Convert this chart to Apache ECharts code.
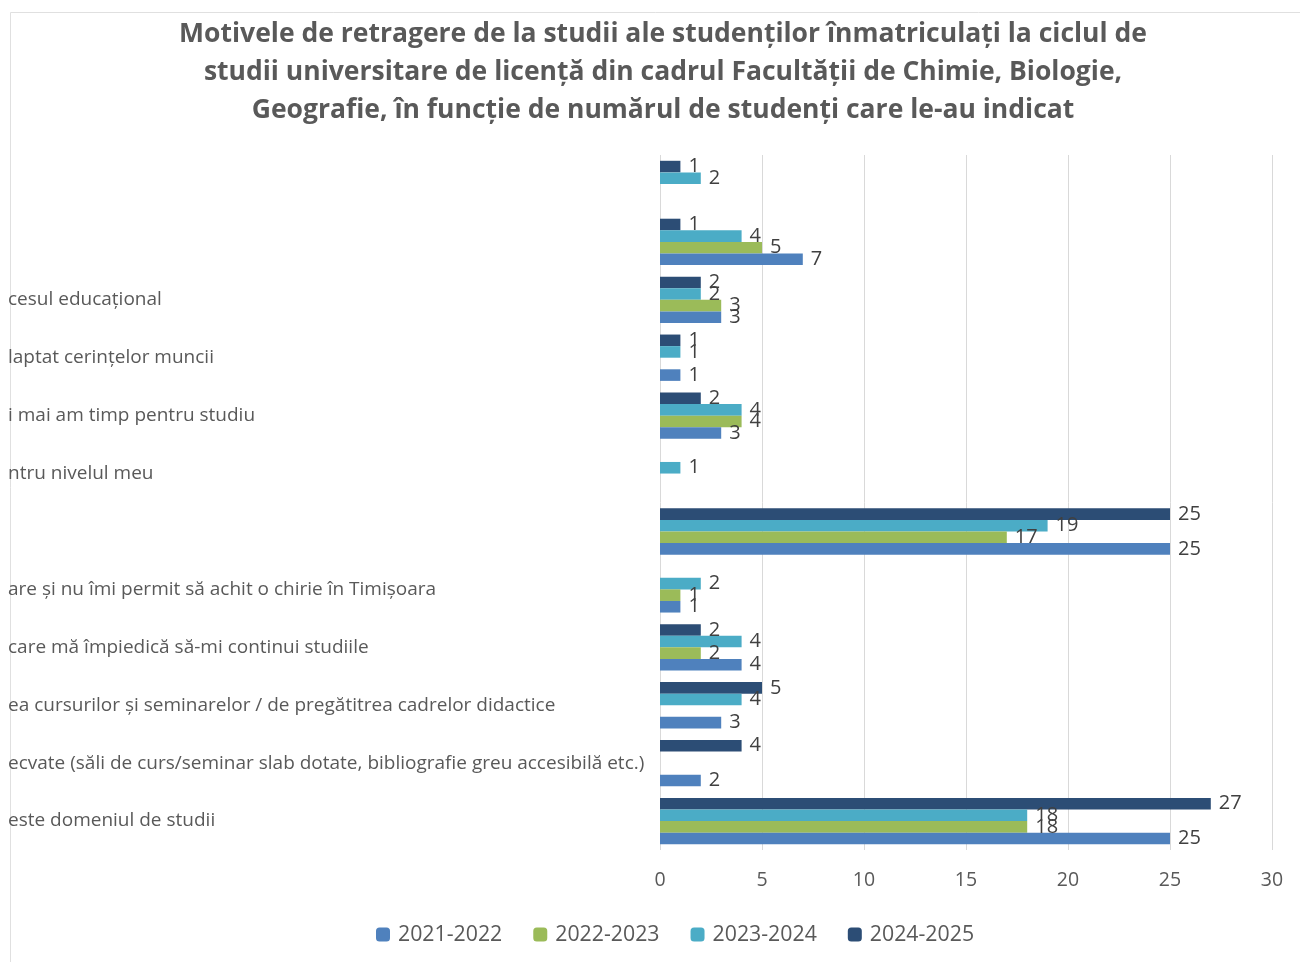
<!DOCTYPE html>
<html>
<head>
<meta charset="utf-8">
<script src="https://cdn.jsdelivr.net/npm/echarts@6/dist/echarts.min.js"></script>
<style>
  html, body { margin: 0; padding: 0; background: #fff; }
  #chart { width: 1300px; height: 962px; }
</style>
</head>
<body>
<div id="chart"></div>
<script>
// categories, listed top to bottom as they appear (labels are cut at the left edge)
var categories = [
  ' ',
  '  ',
  'cesul educațional',
  'laptat cerințelor muncii',
  'i mai am timp pentru studiu',
  'ntru nivelul meu',
  '   ',
  'are și nu îmi permit să achit o chirie în Timișoara',
  'care mă împiedică să-mi continui studiile',
  'ea cursurilor și seminarelor / de pregătitrea cadrelor didactice',
  'ecvate (săli de curs/seminar slab dotate, bibliografie greu accesibilă etc.)',
  'este domeniul de studii'
];
var years = ['2021-2022', '2022-2023', '2023-2024', '2024-2025'];
var y2021 = [null, 7, 3, 1, 3, null, 25, 1, 4, 3, 2, 25];
var y2022 = [null, 5, 3, null, 4, null, 17, 1, 2, null, null, 18];
var y2023 = [2, 4, 2, 1, 4, 1, 19, 2, 4, 4, null, 18];
var y2024 = [1, 1, 2, 1, 2, null, 25, null, 2, 5, 4, 27];
var xTicks = [0, 5, 10, 15, 20, 25, 30];

var colors = ['#4F81BD', '#9BBB59', '#4BACC6', '#2C4D75'];
var values = [y2021, y2022, y2023, y2024];
var font = 'Open Sans';

var chart = echarts.init(document.getElementById('chart'));

// newest year first so it sits on top inside each group, like the original
var series = years.map(function (name, i) {
  return {
    name: name,
    type: 'bar',
    data: values[i],
    itemStyle: { color: colors[i] },
    barGap: '0%',
    barCategoryGap: '20%',
    label: {
      show: true,
      position: 'right',
      distance: 8,
      color: '#404040',
      fontFamily: font,
      fontSize: 20
    }
  };
}).reverse();

var option = {
  backgroundColor: '#fff',
  animation: false,
  title: {
    text: 'Motivele de retragere de la studii ale studenților înmatriculați la ciclul de\n' +
          'studii universitare de licență din cadrul Facultății de Chimie, Biologie,\n' +
          'Geografie, în funcție de numărul de studenți care le-au indicat',
    left: 658,
    textAlign: 'center',
    top: 10,
    textStyle: {
      fontFamily: font,
      fontWeight: 'bold',
      fontSize: 26.5,
      lineHeight: 38,
      color: '#595959'
    }
  },
  legend: {
    data: years,
    left: 371,
    top: 919,
    itemWidth: 14,
    itemHeight: 14,
    itemGap: 31,
    itemStyle: { borderWidth: 0 },
    textStyle: {
      fontFamily: font,
      fontSize: 21.3,
      color: '#595959',
      padding: [0, 0, 0, 3]
    }
  },
  grid: {
    left: 660,
    right: 28,
    top: 155,
    bottom: 112
  },
  xAxis: {
    type: 'value',
    min: xTicks[0],
    max: xTicks[xTicks.length - 1],
    interval: 5,
    axisLine: { show: false },
    axisTick: { show: false },
    splitLine: { lineStyle: { color: '#D9D9D9', width: 1 } },
    axisLabel: {
      margin: 20,
      color: '#595959',
      fontFamily: font,
      fontSize: 19.5
    }
  },
  yAxis: {
    type: 'category',
    data: categories,
    inverse: true,
    axisLine: { show: false },
    axisTick: { show: false },
    axisLabel: {
      align: 'left',
      margin: 652,
      color: '#595959',
      fontFamily: font,
      fontSize: 19
    }
  },
  graphic: [{
    type: 'rect',
    shape: { x: 10.5, y: 12.5, width: 1300, height: 960 },
    style: { fill: null, stroke: '#E0E0E0', lineWidth: 1 },
    silent: true,
    z: -1
  }],
  series: series
};

chart.setOption(option);
</script>
</body>
</html>
